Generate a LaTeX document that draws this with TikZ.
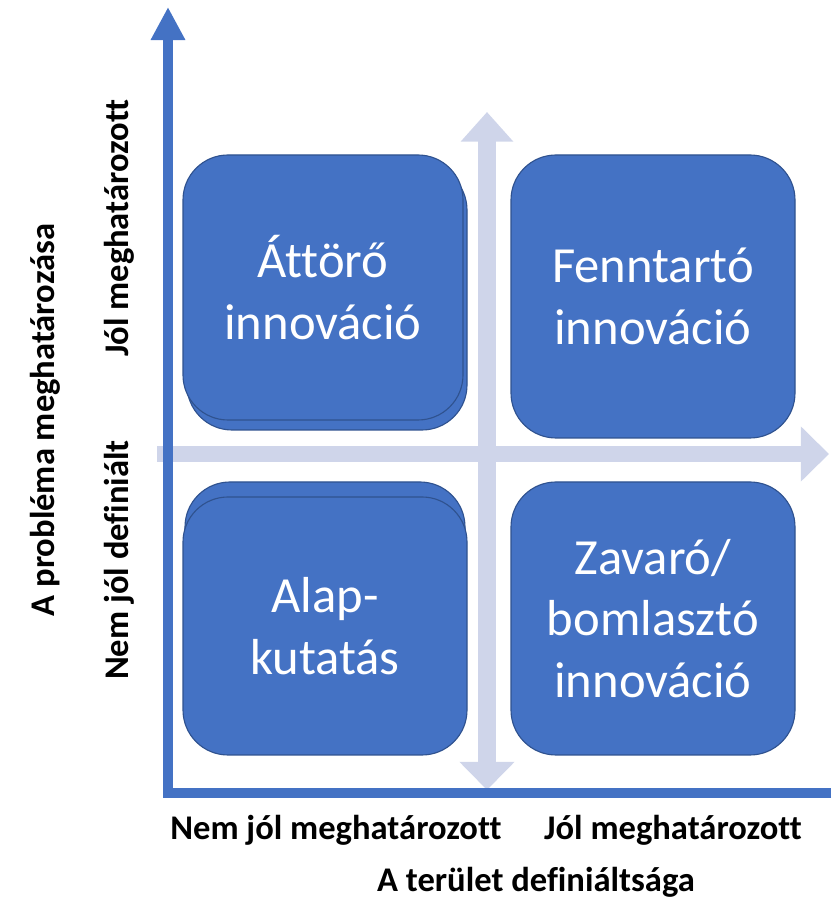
\documentclass[tikz,border=0pt]{standalone}
\usepackage{fontspec}
\setmainfont{Carlito}[Ligatures=NoCommon]
\usetikzlibrary{arrows.meta}

\definecolor{boxblue}{HTML}{4472C4}
\definecolor{boxedge}{HTML}{2F528F}
\definecolor{axisblue}{HTML}{4472C4}
\definecolor{crossgray}{HTML}{CFD5EA}

\begin{document}
\begin{tikzpicture}[
    quad/.style={draw=boxedge, line width=0.8pt, fill=boxblue, rounded corners=1.125cm,
      text=white, align=center, inner sep=0pt, font=\fontsize{36}{44}\selectfont},
    axis/.style={draw=axisblue, line width=7.2pt, line join=miter,
      -{Triangle[width=23pt, length=23.5pt]}},
    cross/.style={draw=crossgray, line width=12pt},
    lbl/.style={font=\fontsize{24.6}{28}\selectfont\bfseries, anchor=base, inner sep=0pt}]

  \useasboundingbox (0,0) rectangle (20.775,22.6);

  % ---------------- light cross ----------------
  \coordinate (vbot) at (12.175,2.85);
  \coordinate (vtop) at (12.175,19.8);
  \coordinate (hl) at (3.925,11.25);
  \coordinate (hr) at (20.725,11.25);
  \draw[cross, line width=13pt, {Triangle[width=38pt, length=20pt]}-{Triangle[width=36pt, length=21pt]}] (vbot) -- (vtop);
  \draw[cross, line width=11pt, -{Triangle[width=38pt, length=20pt]}] (hl) -- (hr);

  % ---------------- axes ----------------
  \coordinate (o) at (4.2,2.775);
  \coordinate (xend) at (20.775,2.775);
  \coordinate (ytop) at (4.2,22.425);
  \draw[axis] (xend) -- (o) -- (ytop);

  % ---------------- quadrants ----------------
  \node[quad, minimum width=7cm, minimum height=6.625cm] (tlback) at (8.175,15.1625) {};
  \node[quad, minimum width=7cm, minimum height=6.625cm] (tl) at (8.075,15.4125) {Áttörő\\innováció};
  \node[quad, minimum width=7.1cm, minimum height=7.075cm] (tr) at (16.325,15.1875) {Fenntartó\\innováció};
  \node[quad, minimum width=7cm, minimum height=6.45cm] (blback) at (8.125,7.325) {};
  \node[quad, minimum width=7.1cm, minimum height=6.45cm] (bl) at (8.125,6.95) {Alap-\\kutatás};
  \node[quad, minimum width=7.1cm, minimum height=6.825cm] (br) at (16.325,7.1375) {Zavaró/\\bomlasztó\\innováció};

  % ---------------- labels ----------------
  \node[lbl] (xlo) at (8.4,1.62) {Nem jól meghatározott};
  \node[lbl] (xhi) at (16.825,1.62) {Jól meghatározott};
  \node[lbl] (xtitle) at (13.4,0.3) {A terület definiáltsága};
  \node[lbl, rotate=90] (ytitle) at (1.35,12.1) {A probléma meghatározása};
  \node[lbl, rotate=90] (yhi) at (3.2,16.9) {Jól meghatározott};
  \node[lbl, rotate=90] (ylo) at (3.2,8.6) {Nem jól definiált};
\end{tikzpicture}
\end{document}
